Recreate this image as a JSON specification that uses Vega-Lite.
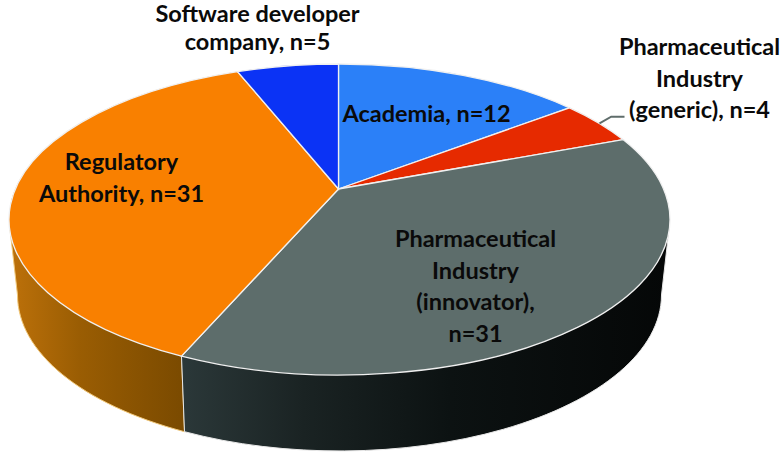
{
"$schema":"https://vega.github.io/schema/vega-lite/v6.json",
"width":780,"height":459,"padding":0,
"autosize":{"type":"fit","contains":"padding"},
"background":"white",
"view":{"stroke":null},
"config":{"text":{"font":"Lato","fontWeight":"bold"}},
"data":{"values":[
{"category":"Academia","n":12,"label":"Academia, n=12"},
{"category":"Pharmaceutical Industry (generic)","n":4,"label":"Pharmaceutical\nIndustry\n(generic), n=4"},
{"category":"Pharmaceutical Industry (innovator)","n":31,"label":"Pharmaceutical\nIndustry\n(innovator),\nn=31"},
{"category":"Regulatory Authority","n":31,"label":"Regulatory\nAuthority, n=31"},
{"category":"Software developer company","n":5,"label":"Software developer\ncompany, n=5"}
]},
"encoding":{
"x":{"datum":0,"type":"quantitative","scale":{"domain":[-1,1]},"axis":null},
"y":{"datum":0,"type":"quantitative","scale":{"domain":[-1,1]},"axis":null}
},
"layer":[
{"transform":[{"filter":"datum.category==='Regulatory Authority'"}],
"mark":{"type":"point","filled":true,"opacity":1,"size":4,"shape":"M-380,-4.5 L-372,65.5 A322,156 0 0 0 -205,202.2 L-208,126.6 L-208,-10 Z","stroke":"#f2c878","strokeWidth":1,
"fill":{"x1":0,"y1":0,"x2":1,"y2":0,"gradient":"linear","stops":[{"offset":0,"color":"#bd710a"},{"offset":0.4,"color":"#9a5d03"},{"offset":1,"color":"#7a4a00"}]}}},
{"transform":[{"filter":"datum.category==='Pharmaceutical Industry (innovator)'"}],
"mark":{"type":"point","filled":true,"opacity":1,"size":4,"shape":"M-208,126.6 L-205,202.2 A322,156 0 0 0 272,65.5 L280,-4.5 L-50,-10 Z","stroke":"#e8e8e8","strokeWidth":1,
"fill":{"x1":0,"y1":0,"x2":1,"y2":0,"gradient":"linear","stops":[{"offset":0,"color":"#2b3839"},{"offset":0.25,"color":"#1a2323"},{"offset":0.55,"color":"#0c1212"},{"offset":1,"color":"#050707"}]}}},
{"mark":{"type":"point","filled":true,"opacity":1,"size":4,"stroke":"#f0f0f0","strokeWidth":1.3},
"encoding":{
"shape":{"field":"category","type":"nominal","legend":null,"scale":{
"domain":["Academia","Pharmaceutical Industry (generic)","Pharmaceutical Industry (innovator)","Regulatory Authority","Software developer company"],
"range":[
"M-51,-40.5 L-51,-165.5 A330.5,155.5 0 0 1 180,-121.7 Z",
"M-51,-40.5 L180,-121.7 A330.5,155.5 0 0 1 233.5,-89.9 Z",
"M-51,-40.5 L233.5,-89.9 A330.5,155.5 0 0 1 -208,126.6 Z",
"M-51,-40.5 L-208,126.6 A330.5,155.5 0 0 1 -152,-157.9 Z",
"M-51,-40.5 L-152,-157.9 A330.5,155.5 0 0 1 -51,-165.5 Z"]}},
"fill":{"field":"category","type":"nominal","legend":null,"scale":{
"domain":["Academia","Pharmaceutical Industry (generic)","Pharmaceutical Industry (innovator)","Regulatory Authority","Software developer company"],
"range":["#2b80f8","#e62a00","#5d6d6b","#f98000","#0b33f5"]}}
}},
{"transform":[{"filter":"datum.category==='Pharmaceutical Industry (generic)'"}],
"mark":{"type":"point","filled":false,"opacity":1,"size":4,"shape":"M210,-106.2 L221.7,-112.8 L235,-112.8","stroke":"#5f6d6b","strokeWidth":2}},
{"transform":[{"filter":"datum.category==='Academia'"}],
"mark":{"type":"text","fontSize":23.5,"lineBreak":"\n","lineHeight":31.5,"align":"center","baseline":"middle","dx":37,"dy":-114.5,"color":"#0a0a0a"},
"encoding":{"text":{"field":"label"}}},
{"transform":[{"filter":"datum.category==='Pharmaceutical Industry (generic)'"}],
"mark":{"type":"text","fontSize":23.5,"lineBreak":"\n","lineHeight":31.5,"align":"center","baseline":"middle","dx":310,"dy":-181.5,"color":"#0a0a0a"},
"encoding":{"text":{"field":"label"}}},
{"transform":[{"filter":"datum.category==='Pharmaceutical Industry (innovator)'"}],
"mark":{"type":"text","fontSize":23.5,"lineBreak":"\n","lineHeight":31.5,"align":"center","baseline":"middle","dx":86,"dy":10.5,"color":"#0a0a0a"},
"encoding":{"text":{"field":"label"}}},
{"transform":[{"filter":"datum.category==='Regulatory Authority'"}],
"mark":{"type":"text","fontSize":23.5,"lineBreak":"\n","lineHeight":31.5,"align":"center","baseline":"middle","dx":-268,"dy":-66.5,"color":"#0a0a0a"},
"encoding":{"text":{"field":"label"}}},
{"transform":[{"filter":"datum.category==='Software developer company'"}],
"mark":{"type":"text","fontSize":23.5,"lineBreak":"\n","lineHeight":28,"align":"center","baseline":"middle","dx":-132,"dy":-215,"color":"#0a0a0a"},
"encoding":{"text":{"field":"label"}}}
]
}
